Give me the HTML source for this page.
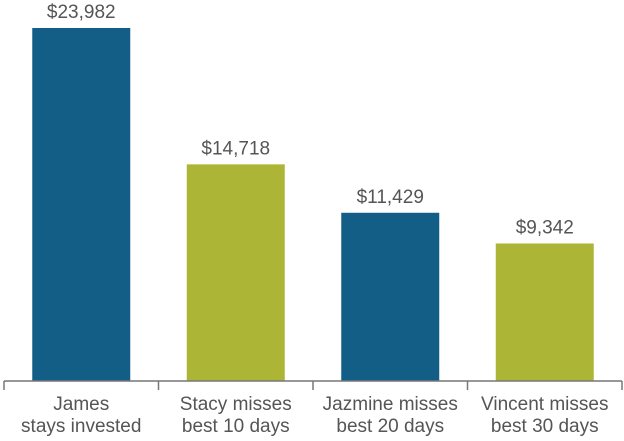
<!DOCTYPE html>
<html><head><meta charset="utf-8"><style>
html,body{margin:0;padding:0;background:#fff;}
svg text{font-family:"Liberation Sans",sans-serif;fill:#555;font-size:19px;}
</style></head><body>
<svg id="chart" width="624" height="436" viewBox="0 0 624 436" xmlns="http://www.w3.org/2000/svg"></svg>
<script>
const categoriesLine1 = ["James", "Stacy misses", "Jazmine misses", "Vincent misses"];
const categoriesLine2 = ["stays invested", "best 10 days", "best 20 days", "best 30 days"];
const values = [23982, 14718, 11429, 9342];
const valueLabels = ["$23,982", "$14,718", "$11,429", "$9,342"];
const colors = ["#135e87", "#acb535", "#135e87", "#acb535"];

const svg = document.getElementById('chart');
const NS = 'http://www.w3.org/2000/svg';
const baseY = 381, plotH = 353, maxV = 23982;
const left = 4, right = 622;
const bandW = (right - left) / values.length;
const barW = 98;
function y(v){ return baseY - v / maxV * plotH; }
function xc(i){ return left + bandW * (i + 0.5); }
function mk(tag, attrs){ const e = document.createElementNS(NS, tag); for (const k in attrs) e.setAttribute(k, attrs[k]); svg.appendChild(e); return e; }

values.forEach((v, i) => {
  const r = mk('rect', {x: xc(i) - barW/2, y: y(v), width: barW, height: baseY - y(v), fill: colors[i]});
  
  
  const t = mk('text', {x: xc(i), y: y(v) - 10, 'text-anchor': 'middle'});
  t.textContent = valueLabels[i];
  
  
  const c = mk('text', {x: xc(i), y: 410, 'text-anchor': 'middle'});
  
  
  const s1 = document.createElementNS(NS, 'tspan'); s1.setAttribute('x', xc(i)); s1.textContent = categoriesLine1[i]; c.appendChild(s1);
  const s2 = document.createElementNS(NS, 'tspan'); s2.setAttribute('x', xc(i)); s2.setAttribute('dy', '22'); s2.textContent = categoriesLine2[i]; c.appendChild(s2);
});
const ax = mk('line', {x1: left, x2: right, y1: baseY, y2: baseY, stroke: '#777', 'stroke-width': 1.5});


for (let i = 0; i <= values.length; i++) {
  const tx = left + bandW * i;
  const tk = mk('line', {x1: tx, x2: tx, y1: baseY, y2: 390, stroke: '#777', 'stroke-width': 1.5});
  
  
}
</script>
</body></html>
